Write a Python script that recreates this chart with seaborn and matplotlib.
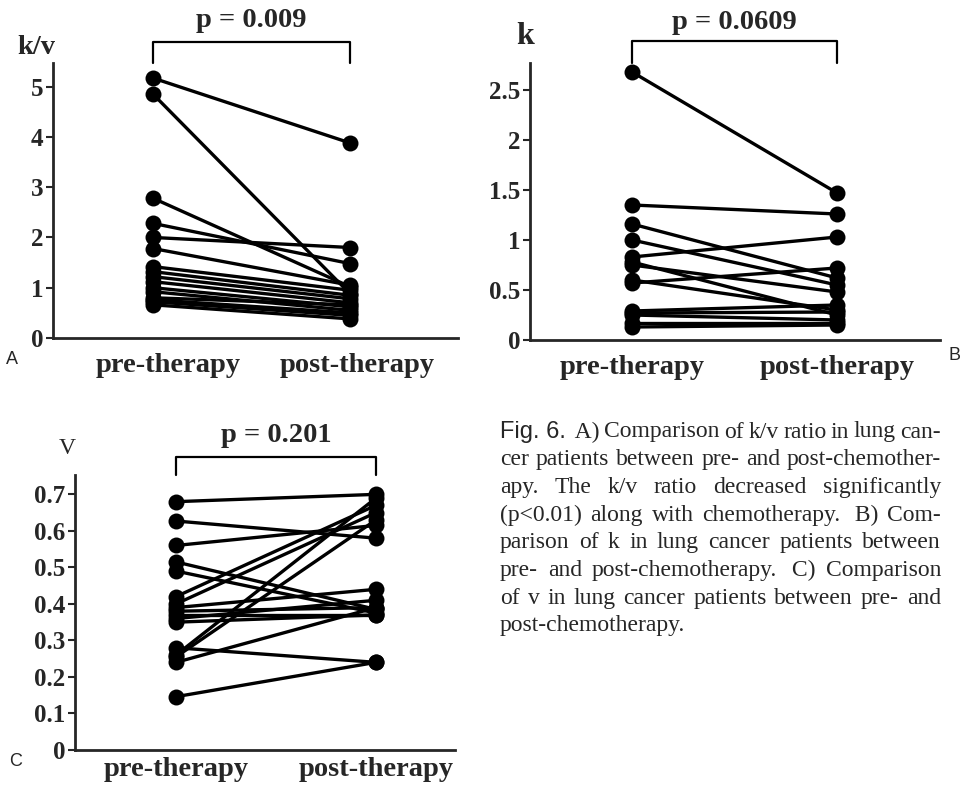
import pandas as pd
import seaborn as sns
import matplotlib.pyplot as plt
from matplotlib import transforms

# k/v ratio (panel A)
kv_pre = [5.17, 4.85, 2.78, 2.28, 2.00, 1.78, 1.42, 1.32, 1.22, 1.12, 1.00, 0.92, 0.80, 0.76, 0.72, 0.66]
kv_post = [3.88, 0.88, 1.02, 1.48, 1.80, 1.05, 0.95, 0.85, 0.78, 0.70, 0.62, 0.55, 0.66, 0.50, 0.45, 0.38]

# k (panel B)
k_pre = [2.68, 1.35, 1.16, 1.00, 0.83, 0.78, 0.75, 0.60, 0.57, 0.29, 0.27, 0.25, 0.17, 0.13]
k_post = [1.47, 1.26, 0.62, 0.55, 1.03, 0.25, 0.48, 0.30, 0.72, 0.35, 0.28, 0.20, 0.17, 0.15]

# v (panel C)
v_pre = [0.68, 0.627, 0.56, 0.515, 0.49, 0.42, 0.40, 0.39, 0.38, 0.37, 0.36, 0.35, 0.28, 0.26, 0.255, 0.24, 0.146]
v_post = [0.70, 0.58, 0.615, 0.385, 0.375, 0.67, 0.65, 0.44, 0.39, 0.37, 0.41, 0.37, 0.24, 0.69, 0.63, 0.39, 0.24]

x_labels = ['pre-therapy', 'post-therapy']
p_texts = ['p = 0.009', 'p = 0.0609', 'p = 0.201']

kv_ticks = [0, 1, 2, 3, 4, 5]
kv_ticklabels = ['0', '1', '2', '3', '4', '5']
k_ticks = [0, 0.5, 1, 1.5, 2, 2.5]
k_ticklabels = ['0', '0.5', '1', '1.5', '2', '2.5']
v_ticks = [0, 0.1, 0.2, 0.3, 0.4, 0.5, 0.6, 0.7]
v_ticklabels = ['0', '0.1', '0.2', '0.3', '0.4', '0.5', '0.6', '0.7']

caption = [
    ['Fig. 6.', ' A)', 'Comparison', 'of', 'k/v', 'ratio', 'in', 'lung', 'can-'],
    ['cer', 'patients', 'between', 'pre-', 'and', 'post-chemother-'],
    ['apy.', 'The', 'k/v', 'ratio', 'decreased', 'significantly'],
    ['(p<0.01)', 'along', 'with', 'chemotherapy.', ' B)', 'Com-'],
    ['parison', 'of', 'k', 'in', 'lung', 'cancer', 'patients', 'between'],
    ['pre-', 'and', 'post-chemotherapy.', ' C)', 'Comparison'],
    ['of', 'v', 'in', 'lung', 'cancer', 'patients', 'between', 'pre-', 'and'],
    ['post-chemotherapy.'],
]

sns.set_style('ticks')
plt.rcParams['font.family'] = ['Liberation Serif', 'DejaVu Serif']

W, H = 967, 788
fig = plt.figure(figsize=(W / 100, H / 100), dpi=100)


def px(x, y):
    return x / W, 1 - y / H


def paired(ax, pre, post, pad=11):
    n = len(pre)
    df = pd.DataFrame({
        'id': list(range(n)) * 2,
        'phase': [0] * n + [1] * n,
        'value': pre + post,
    })
    sns.lineplot(data=df, x='phase', y='value', units='id', estimator=None,
                 color='black', lw=2.4, marker='o', markersize=11.5,
                 markeredgecolor='black', markeredgewidth=0, ax=ax, sort=False)
    ax.set_xlabel('')
    ax.set_ylabel('')
    ax.set_xticks([0, 1], x_labels, fontsize=20.5, fontweight='bold')
    ax.tick_params(axis='x', length=0, pad=pad)
    ax.tick_params(axis='y', length=5, width=1.5, pad=2, labelsize=18)
    sns.despine(ax=ax)
    for s in ['left', 'bottom']:
        ax.spines[s].set_linewidth(2.0)


def bracket(ax, top, text, ty):
    tr = ax.get_xaxis_transform()
    ax.plot([0, 0, 1, 1], [1.0, top, top, 1.0], color='black', lw=1.6,
            transform=tr, clip_on=False)
    ax.text(0.5, ty, text, transform=tr, ha='center', va='center',
            fontsize=20.5, fontweight='bold')


# panel A
axA = fig.add_axes([53 / W, 1 - 338 / H, 405 / W, 275 / H])
paired(axA, kv_pre, kv_post)
axA.set_xlim(-0.508, 1.548)
axA.set_ylim(0, 5.47)
axA.set_yticks(kv_ticks, kv_ticklabels, fontweight='bold')
bracket(axA, 1.076, p_texts[0], 1.156)
# labels of panel A sit a little right of the points
for lab, dx in zip(axA.get_xticklabels(), [15, 7]):
    lab.set_transform(lab.get_transform() +
                      transforms.ScaledTranslation(dx / 100, 0, fig.dpi_scale_trans))

# panel B
axB = fig.add_axes([530 / W, 1 - 340 / H, 410 / W, 277 / H])
paired(axB, k_pre, k_post)
axB.set_xlim(-0.498, 1.502)
axB.set_ylim(0, 2.77)
axB.set_yticks(k_ticks, k_ticklabels, fontweight='bold')
bracket(axB, 1.079, p_texts[1], 1.148)

# panel C
axC = fig.add_axes([75 / W, 1 - 750 / H, 380 / W, 275 / H])
paired(axC, v_pre, v_post, pad=5)
axC.set_xlim(-0.505, 1.395)
axC.set_ylim(0, 0.753)
axC.set_yticks(v_ticks, v_ticklabels, fontweight='bold')
bracket(axC, 1.065, p_texts[2], 1.145)

# axis names and panel letters
fig.text(*px(36, 48), 'k/v', ha='center', va='center', fontsize=20.5, fontweight='bold')
fig.text(*px(525, 36), 'k', ha='center', va='center', fontsize=23, fontweight='bold')
fig.text(*px(67, 449), 'V', ha='center', va='center', fontsize=17)
for letter, (lx, ly) in zip('ABC', [(12, 359), (955, 356), (16, 762)]):
    fig.text(*px(lx, ly), letter, ha='center', va='center', fontsize=13,
             family='Liberation Sans')

# caption, justified line by line
renderer = fig.canvas.get_renderer()
x0, x1 = 500, 941
for i, words in enumerate(caption):
    y = 432 + i * 27.7
    items = []
    for w in words:
        fam = 'Liberation Sans' if w.startswith('Fig') else 'Liberation Serif'
        t = fig.text(0, 1 - y / H, w, ha='left', va='center', fontsize=17,
                     family=fam)
        items.append(t)
    widths = [t.get_window_extent(renderer).width for t in items]
    if i == len(caption) - 1 or len(items) == 1:
        gap = 6
    else:
        gap = (x1 - x0 - sum(widths)) / (len(items) - 1)
    x = x0
    for t, wd in zip(items, widths):
        t.set_x(x / W)
        x += wd + gap

fig.savefig('out.png', dpi=100)
